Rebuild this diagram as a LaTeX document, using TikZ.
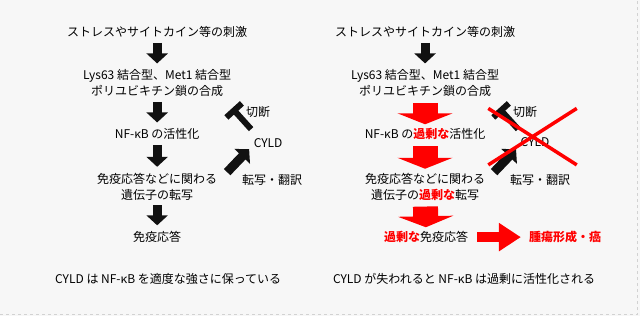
\documentclass[tikz,border=0pt]{standalone}
\usepackage{fontspec}
\setmainfont{Noto Sans CJK JP}
\usetikzlibrary{arrows.meta,calc,shapes.misc}
\definecolor{alarmred}{HTML}{FF0000}
\definecolor{inkblack}{HTML}{111111}
\definecolor{paper}{HTML}{F7F7F7}
\newcommand{\excess}[1]{\textcolor{alarmred}{\bfseries #1}}

\begin{document}
\begin{tikzpicture}[
  x=1pt, y=-1pt,
  font=\fontsize{12pt}{16pt}\selectfont,
  txt/.style={align=center, inner sep=0pt},
  blkarrow/.style={line width=9pt, draw=inkblack, -{Triangle[width=21pt,length=10pt]},
                   shorten <=5pt, shorten >=6pt},
  redarrow/.style={line width=25pt, draw=alarmred, -{Triangle[width=55pt,length=11pt]},
                   shorten <=6pt, shorten >=4pt},
  sidearrow/.style={line width=10pt, draw=alarmred, -{Triangle[width=27pt,length=22pt]},
                    shorten <=9pt, shorten >=8pt},
  cutbar/.style={line width=6pt, draw=inkblack, -{Bar[width=21pt]}},
  xmark/.style={cross out, draw=alarmred, line width=3.5pt, minimum width=85pt,
                minimum height=53pt, inner sep=0pt},
]
% ---- paper ----
\fill[paper] (0,0) rectangle (640,316);
\draw[gray!35, dashed] (0,314.5) -- (637.5,314.5) -- (637.5,0);

% ---- Left : normal signalling ----
\node[txt] (stim)   at (157,32)    {ストレスやサイトカイン等の刺激};
\node[txt] (lys)    at (157,83)    {Lys63 結合型、Met1 結合型\\ポリユビキチン鎖の合成};
\node[txt] (nfkb)   at (157,134)   {NF-κB の活性化};
\node[txt] (gene)   at (157,186.5) {免疫応答などに関わる\\遺伝子の転写};
\node[txt] (immune) at (157,237)   {免疫応答};
\node[txt] (cyld)   at (268,143)   {CYLD};
\node[txt] (cut)    at (258,112)   {切断};
\node[txt] (transl) at (272,180)   {転写・翻訳};
\node[txt] (capL)   at (168,279)   {CYLD は NF-κB を適度な強さに保っている};

\draw[blkarrow] (stim) -- (lys);
\draw[blkarrow] (lys)  -- (nfkb);
\draw[blkarrow] (nfkb) -- (gene);
\draw[blkarrow] (gene) -- (immune);

% CYLD feedback
\coordinate (upS)  at (227,172);
\coordinate (upE)  at (249,149);
\coordinate (cutS) at (251,129);
\coordinate (cutE) at (232,108);
\draw[blkarrow, shorten <=0pt, shorten >=0pt] (upS) -- (upE);
\draw[cutbar] (cutS) -- (cutE);

% ---- Right : CYLD lost ----
\node[txt] (stimR)   at (425,32)    {ストレスやサイトカイン等の刺激};
\node[txt] (lysR)    at (425,83)    {Lys63 結合型、Met1 結合型\\ポリユビキチン鎖の合成};
\node[txt] (nfkbR)   at (425,134)   {NF-κB の\excess{過剰な}活性化};
\node[txt] (geneR)   at (425,186.5) {免疫応答などに関わる\\遺伝子の\excess{過剰な}転写};
\node[txt] (immuneR) at (426,237)   {\excess{過剰な}免疫応答};
\node[txt, text=alarmred, font=\fontsize{12pt}{16pt}\selectfont\bfseries] (tumor) at (565,237) {腫瘍形成・癌};
\node[txt] (cyldR)   at (535,142)   {CYLD};
\node[txt] (cutR)    at (525,112)   {切断};
\node[txt] (translR) at (540,180)   {転写・翻訳};
\node[txt] (capR)    at (464,279)   {CYLD が失われると NF-κB は過剰に活性化される};

\draw[blkarrow] (stimR) -- (lysR);
\draw[redarrow] (lysR)  -- (nfkbR);
\draw[redarrow] (nfkbR) -- (geneR);
\draw[redarrow] (geneR) -- (immuneR);
\draw[sidearrow] (immuneR) -- (tumor);

\coordinate (upSR)  at (494,172);
\coordinate (upER)  at (516,149);
\coordinate (cutSR) at (518,129);
\coordinate (cutER) at (499,108);
\draw[blkarrow, shorten <=0pt, shorten >=0pt] (upSR) -- (upER);
\draw[cutbar] (cutSR) -- (cutER);
\node[xmark] (crossR) at (532.5,136.5) {};
\end{tikzpicture}
\end{document}
